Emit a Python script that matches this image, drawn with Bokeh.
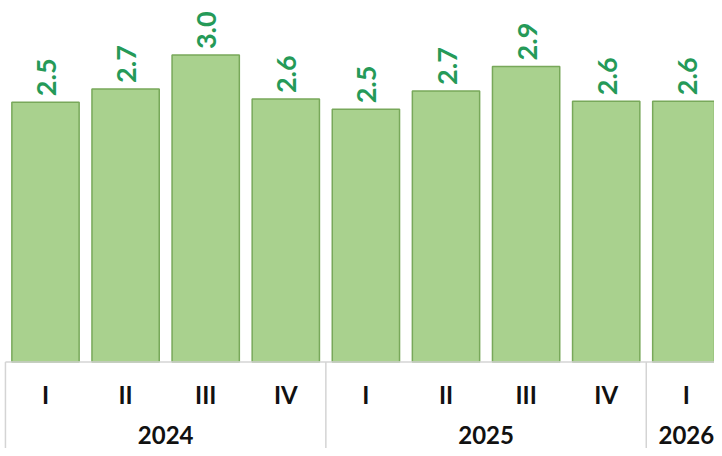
import math
from bokeh.plotting import figure
from bokeh.models import Range1d, ColumnDataSource
from bokeh.core.properties import value
from bokeh.embed import file_html
from bokeh.resources import INLINE

# ---- data ----
years = ["2024", "2024", "2024", "2024", "2025", "2025", "2025", "2025", "2026"]
quarters = ["I", "II", "III", "IV", "I", "II", "III", "IV", "I"]
values = [2.54, 2.67, 3.0, 2.57, 2.47, 2.65, 2.89, 2.55, 2.55]
labels = ["2.5", "2.7", "3.0", "2.6", "2.5", "2.7", "2.9", "2.6", "2.6"]

FONT = "Lato"
BAR_FILL = "#a9d18e"
BAR_LINE = "#78a85a"
LABEL_COLOR = "#259a58"
SEP_COLOR = "#d4d4d4"

XMIN, XMAX = -0.5618, 8.352
YMIN, YMAX = -0.8456, 3.534

xs = list(range(len(values)))

p = figure(width=714, height=448, output_backend="svg", toolbar_location=None,
           x_range=Range1d(XMIN, XMAX), y_range=Range1d(YMIN, YMAX),
           x_axis_type=None, y_axis_type=None, min_border=0,
           outline_line_color=None, background_fill_color="white",
           border_fill_color="white")
p.grid.visible = False

src = ColumnDataSource(dict(x=xs, top=values, label=labels, q=quarters))

p.vbar(x="x", top="top", bottom=0, width=0.84, source=src,
       fill_color=BAR_FILL, line_color=BAR_LINE, line_width=1.5)

# value labels (rotated)
p.text(x="x", y="top", text="label", source=src, angle=math.pi / 2,
       y_offset=-6, x_offset=1, text_align="left", text_baseline="middle",
       text_font=value(FONT), text_font_style="bold", text_font_size="27px",
       text_color=LABEL_COLOR)

# year groups
group_names = []
group_start = []
group_end = []
for i, y in enumerate(years):
    if not group_names or group_names[-1] != y:
        group_names.append(y)
        group_start.append(i)
        group_end.append(i)
    else:
        group_end[-1] = i
group_center = [(a + b) / 2 for a, b in zip(group_start, group_end)]
seps = [a - 0.5 for a in group_start]

# baseline
p.segment(x0=[seps[0]], y0=[0], x1=[XMAX + 1], y1=[0], line_color=SEP_COLOR, line_width=1.5)

# quarter labels
p.text(x="x", y=0, text="q", source=src, y_offset=32,
       text_align="center", text_baseline="middle",
       text_font=value(FONT), text_font_style="bold", text_font_size="24px",
       text_color="#111111")

p.segment(x0=seps, y0=[0] * len(seps), x1=seps, y1=[YMIN] * len(seps),
          line_color=SEP_COLOR, line_width=1.5)

p.text(x=group_center, y=[0] * len(group_center), text=group_names, y_offset=73,
       text_align="center", text_baseline="middle",
       text_font=value(FONT), text_font_style="bold", text_font_size="24px",
       text_color="#111111")

open("out.html", "w").write(file_html(p, INLINE))
